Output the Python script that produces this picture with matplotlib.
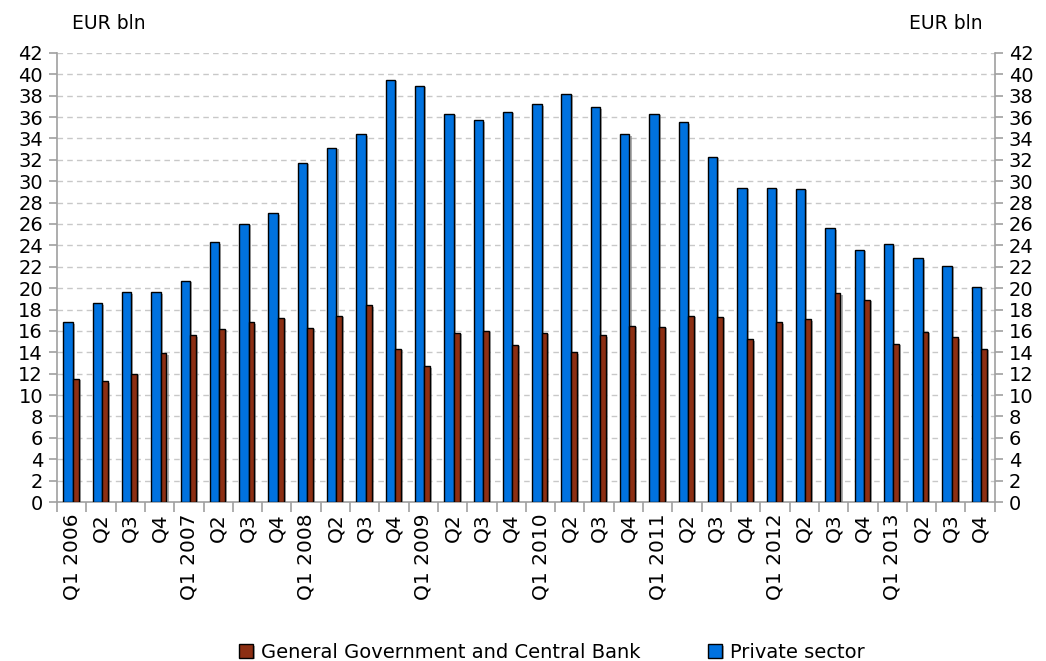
import matplotlib
matplotlib.use("Agg")
from matplotlib import pyplot as plt
from matplotlib import patheffects as pe
import numpy as np

plt.rcParams['font.family'] = ['DejaVu Sans']

quarters = ['Q1 2006', 'Q2', 'Q3', 'Q4',
            'Q1 2007', 'Q2', 'Q3', 'Q4',
            'Q1 2008', 'Q2', 'Q3', 'Q4',
            'Q1 2009', 'Q2', 'Q3', 'Q4',
            'Q1 2010', 'Q2', 'Q3', 'Q4',
            'Q1 2011', 'Q2', 'Q3', 'Q4',
            'Q1 2012', 'Q2', 'Q3', 'Q4',
            'Q1 2013', 'Q2', 'Q3', 'Q4']

gov_cb = [11.5, 11.3, 12.0, 13.9, 15.6, 16.2, 16.8, 17.2,
          16.3, 17.4, 18.4, 14.3, 12.7, 15.8, 16.0, 14.7,
          15.8, 14.0, 15.6, 16.5, 16.4, 17.4, 17.3, 15.2,
          16.8, 17.1, 19.5, 18.9, 14.8, 15.9, 15.4, 14.3]

private = [16.8, 18.6, 19.6, 19.6, 20.7, 24.3, 26.0, 27.0,
           31.7, 33.1, 34.4, 39.5, 38.9, 36.3, 35.7, 36.5,
           37.2, 38.2, 36.9, 34.4, 36.3, 35.5, 32.3, 29.4,
           29.4, 29.3, 25.6, 23.6, 24.1, 22.8, 22.1, 20.1]

blue = '#0072DF'
brown = '#8C2F13'
shadow = [pe.SimplePatchShadow(offset=(1.5, -1.0), shadow_rgbFace='#777777', alpha=0.6),
          pe.Normal()]

fig = plt.figure(figsize=(10.46, 6.61), dpi=100)
ax = fig.add_axes([0.0545, 0.2405, 0.8965, 0.6795])

x = np.arange(len(quarters))
b1 = ax.bar(x - 0.285, private, width=0.32, align='edge', color=blue,
            edgecolor='black', linewidth=1.0, zorder=3, label='Private sector')
b2 = ax.bar(x + 0.035, gov_cb, width=0.2, align='edge', color=brown,
            edgecolor='black', linewidth=1.0, zorder=3,
            label='General Government and Central Bank')
for p in list(b1) + list(b2):
    p.set_path_effects(shadow)

ax.set_xlim(-0.5, len(quarters) - 0.5)
ax.set_ylim(0, 42)
ax.set_yticks(np.arange(0, 43, 2))
ax.yaxis.grid(True, linestyle=(0, (4, 3)), color='#C8C8C8', linewidth=1.0, zorder=0)

ax.set_xticks(x)
ax.set_xticklabels(quarters, rotation=90, fontsize=14.5)
ax.set_xticks(np.arange(-0.5, len(quarters), 1), minor=True)
ax.tick_params(axis='x', which='major', length=0, pad=8)
ax.tick_params(axis='x', which='minor', length=7, color='#A0A0A0', width=1.2)
ax.tick_params(axis='y', which='major', length=6, color='#A0A0A0', width=1.2,
               labelsize=14, labelright=True, right=True, pad=4)

for side in ['left', 'right', 'bottom']:
    ax.spines[side].set_color('#A0A0A0')
    ax.spines[side].set_linewidth(1.2)
ax.spines['top'].set_visible(False)

fig.text(0.069, 0.965, 'EUR bln', fontsize=13.5, ha='left', va='center')
fig.text(0.939, 0.965, 'EUR bln', fontsize=13.5, ha='right', va='center')

fig.legend(handles=[b2, b1], loc='lower left', bbox_to_anchor=(0.212, -0.028),
           ncol=2, frameon=False, fontsize=14, handlelength=0.7,
           handleheight=0.7, handletextpad=0.4, columnspacing=3.5)

fig.savefig('out.png', dpi=100)
